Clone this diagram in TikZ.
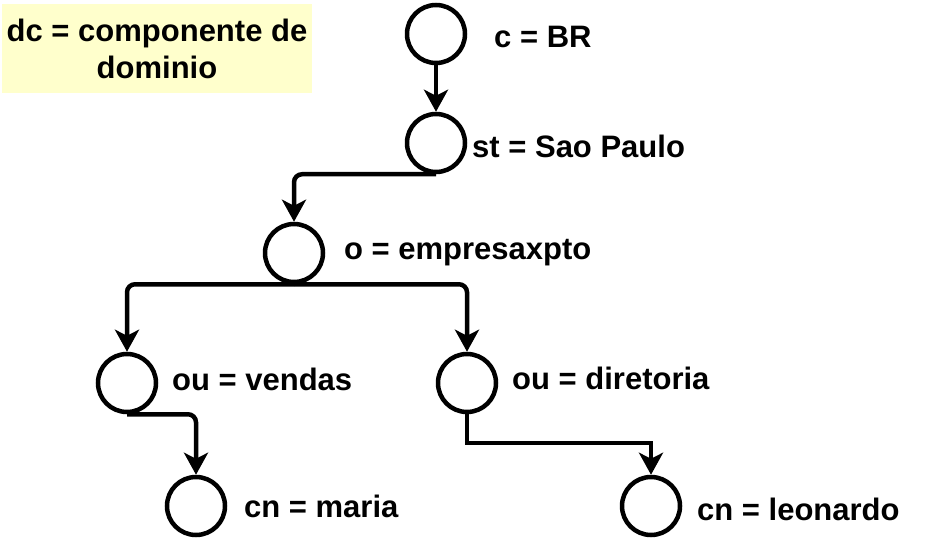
\documentclass[tikz,border=0pt]{standalone}
\usepackage{fontspec}
\setmainfont{Liberation Sans}
\usepackage{tikz}
\usetikzlibrary{arrows.meta,%
                shapes,positioning}

\newcommand{\ldapfont}{\fontsize{31}{37}\selectfont\bfseries}
\definecolor{noteyellow}{RGB}{255,255,204}

\tikzset{
  entry/.style={circle, draw, line width=4.5pt, minimum size=58pt, inner sep=0pt},
  attr/.style={anchor=base west, inner sep=0pt, font=\ldapfont},
  link/.style={line width=4.5pt, rounded corners=8pt,
               -{Stealth[length=22pt,width=24pt,inset=6pt]}},
  note/.style={fill=noteyellow, align=center, font=\ldapfont,
               minimum width=310pt, minimum height=89pt, inner sep=0pt}
}

\begin{document}
\begin{tikzpicture}[x=1pt,y=-1pt]
\useasboundingbox (0,0) rectangle (939,540);
\node[note] (legend) at (157,48.5) {dc = componente de\\dominio};
\node[entry] (c) at (436,34) {};
\node[entry] (st) at (436,143) {};
\node[entry] (o) at (294,253) {};
\node[entry] (vendas) at (127,383) {};
\node[entry] (diretoria) at (467,383) {};
\node[entry] (maria) at (196,506) {};
\node[entry] (leonardo) at (651,506) {};
\coordinate (bend) at (651,443);
\draw[link] (c.south) -- (st.north);
\draw[link] (st.south) -| (o.north);
\draw[link] (o.south) -| (vendas.north);
\draw[link] (o.south) -| (diretoria.north);
\draw[link] (vendas.south) -| (maria.north);
\draw[link, sharp corners] (diretoria.south) |- (bend) -- (leonardo.north);
\node[attr] (cBR) at (494,48) {c = BR};
\node[attr] (stSP) at (472,158) {st = Sao Paulo};
\node[attr] (oEmp) at (344,259) {o = empresaxpto};
\node[attr] (ouVendas) at (172,390) {ou = vendas};
\node[attr] (ouDir) at (512,389) {ou = diretoria};
\node[attr] (cnMaria) at (244,517) {cn = maria};
\node[attr] (cnLeo) at (697,520) {cn = leonardo};
\end{tikzpicture}
\end{document}
